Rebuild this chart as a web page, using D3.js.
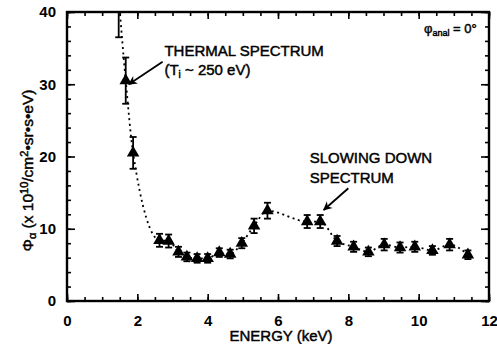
<!DOCTYPE html>
<html>
<head>
<meta charset="utf-8">
<script src="https://cdn.jsdelivr.net/npm/d3@7"></script>
<style>
  body { margin: 0; background: #fff; }
  text { font-family: "Liberation Sans", Arial, sans-serif; fill: #000; }
  .heavy { stroke: #000; stroke-width: 0.45px; }
</style>
</head>
<body>
<div id="chart"></div>
<script>
// energy (keV), flux (x 10^10), error half-width
const energy = [1.47, 1.67, 1.88, 2.63, 2.89, 3.17, 3.41, 3.70, 4.00, 4.33, 4.64, 4.97, 5.32, 5.70,
  6.83, 7.20, 7.68, 8.15, 8.57, 9.02, 9.47, 9.89, 10.39, 10.88, 11.40];
const flux = [42, 30.5, 20.5, 8.4, 8.3, 6.8, 6.1, 5.9, 5.9, 6.7, 6.5, 8.0, 10.4, 12.5,
  11.0, 11.0, 8.3, 7.5, 6.8, 7.8, 7.4, 7.5, 7.0, 7.8, 6.4];
const err = [5.5, 3.2, 2.2, 0.9, 0.9, 0.7, 0.6, 0.6, 0.6, 0.6, 0.6, 0.7, 1.0, 1.1,
  0.9, 0.9, 0.7, 0.7, 0.6, 0.8, 0.7, 0.7, 0.6, 0.8, 0.6];
const xTicks = [0, 2, 4, 6, 8, 10, 12];
const yTicks = [0, 10, 20, 30, 40];

const width = 497, height = 344;
const margin = {top: 12, right: 8, bottom: 43, left: 67};
const w = width - margin.left - margin.right;
const h = height - margin.top - margin.bottom;

const data = energy.map((e, i) => ({e, v: flux[i], err: err[i]}));

const x = d3.scaleLinear().domain([0, 12]).range([0, w]);
const y = d3.scaleLinear().domain([0, 40]).range([h, 0]);

const svg = d3.select('#chart')
  .append('svg')
    .attr('width', width)
    .attr('height', height)
  .append('g')
    .attr('transform', `translate(${margin.left},${margin.top})`);

svg.append('defs').append('clipPath').attr('id', 'clip')
  .append('rect').attr('width', w).attr('height', h);

svg.append('defs').append('marker')
    .attr('id', 'arrow')
    .attr('viewBox', '0 0 10 10')
    .attr('refX', 9).attr('refY', 5)
    .attr('markerWidth', 10).attr('markerHeight', 9)
    .attr('markerUnits', 'userSpaceOnUse')
    .attr('orient', 'auto')
  .append('path')
    .attr('d', 'M0,0 L10,5 L0,10 L3,5 Z');

// ticks: minor + major on all four sides, pointing inward
const tickStyle = (g) => {
  g.select('.domain').remove();
  g.selectAll('.tick line').attr('stroke', '#000').attr('stroke-width', 1.6);
};

svg.append('g')
  .attr('transform', `translate(0,${h})`)
  .call(d3.axisBottom(x).tickValues(d3.range(0, 12.01, 0.5)).tickSize(-4).tickFormat(''))
  .call(tickStyle);
svg.append('g')
  .attr('transform', `translate(0,${h})`)
  .call(d3.axisBottom(x).tickValues(xTicks).tickSize(-7).tickPadding(14))
  .call(tickStyle)
  .call(g => g.selectAll('text').attr('font-size', 15).attr('font-weight', 'bold'));
svg.append('g')
  .call(d3.axisTop(x).tickValues(d3.range(0, 12.01, 0.5)).tickSize(-4).tickFormat(''))
  .call(tickStyle);
svg.append('g')
  .call(d3.axisTop(x).tickValues(xTicks).tickSize(-7).tickFormat(''))
  .call(tickStyle);

svg.append('g')
  .call(d3.axisLeft(y).tickValues(d3.range(0, 40.01, 2)).tickSize(-4).tickFormat(''))
  .call(tickStyle);
svg.append('g')
  .call(d3.axisLeft(y).tickValues(yTicks).tickSize(-8).tickPadding(11))
  .call(tickStyle)
  .call(g => g.selectAll('text').attr('font-size', 15).attr('font-weight', 'bold'));
svg.append('g')
  .attr('transform', `translate(${w},0)`)
  .call(d3.axisRight(y).tickValues(d3.range(0, 40.01, 2)).tickSize(-4).tickFormat(''))
  .call(tickStyle);
svg.append('g')
  .attr('transform', `translate(${w},0)`)
  .call(d3.axisRight(y).tickValues(yTicks).tickSize(-8).tickFormat(''))
  .call(tickStyle);

svg.append('rect')
  .attr('width', w).attr('height', h)
  .attr('fill', 'none').attr('stroke', '#000').attr('stroke-width', 2.4);

const plot = svg.append('g').attr('clip-path', 'url(#clip)');

const line = d3.line()
  .x(d => x(d.e))
  .y(d => y(d.v))
  .curve(d3.curveMonotoneX);

plot.append('path')
  .datum(data)
  .attr('fill', 'none')
  .attr('stroke', '#000')
  .attr('stroke-width', 1.8)
  .attr('stroke-dasharray', '2,3.5')
  .attr('d', line);

const pts = plot.selectAll('.pt').data(data).join('g').attr('class', 'pt');
pts.append('line')
  .attr('x1', d => x(d.e)).attr('x2', d => x(d.e))
  .attr('y1', d => y(d.v + d.err)).attr('y2', d => y(d.v - d.err))
  .attr('stroke', '#000').attr('stroke-width', 1.8);
pts.selectAll('.cap').data(d => [d.v + d.err, d.v - d.err].map(v => ({e: d.e, v})))
  .join('line')
  .attr('x1', d => x(d.e) - 3.5).attr('x2', d => x(d.e) + 3.5)
  .attr('y1', d => y(d.v)).attr('y2', d => y(d.v))
  .attr('stroke', '#000').attr('stroke-width', 1.8);
pts.append('path')
  .attr('transform', d => `translate(${x(d.e)},${y(d.v)})`)
  .attr('d', d3.symbol(d3.symbolTriangle, 68))
  .attr('fill', '#000');

// annotations (data coordinates)
const ann = svg.append('g').attr('font-size', 15).attr('class', 'heavy');
ann.append('text').attr('x', x(2.77)).attr('y', y(33.9)).text('THERMAL SPECTRUM');
const t2 = ann.append('text').attr('x', x(2.77)).attr('y', y(31.3));
t2.append('tspan').text('(T');
t2.append('tspan').attr('font-size', 10).attr('dy', 3).text('i');
t2.append('tspan').attr('dy', -3).text(' ~ 250 eV)');

ann.append('text').attr('x', x(6.9)).attr('y', y(19.1)).text('SLOWING DOWN');
ann.append('text').attr('x', x(6.9)).attr('y', y(16.3)).text('SPECTRUM');

const phi = ann.append('text').attr('x', x(11.65)).attr('y', y(37.1))
  .attr('text-anchor', 'end').attr('font-size', 13);
phi.append('tspan').text('φ');
phi.append('tspan').attr('font-size', 9).attr('dy', 3).text('anal');
phi.append('tspan').attr('dy', -3).text(' = 0°');

const arrows = [
  {from: [2.72, 33.1], to: [1.76, 30.0]},
  {from: [8.0, 15.6], to: [7.3, 12.6]}
];
svg.selectAll('.arrow').data(arrows).join('line')
  .attr('x1', d => x(d.from[0])).attr('y1', d => y(d.from[1]))
  .attr('x2', d => x(d.to[0])).attr('y2', d => y(d.to[1]))
  .attr('stroke', '#000').attr('stroke-width', 1.8)
  .attr('marker-end', 'url(#arrow)');

// axis titles
svg.append('text')
  .attr('class', 'heavy')
  .attr('x', 281 - margin.left).attr('y', h + 40)
  .attr('text-anchor', 'middle').attr('font-size', 15)
  .text('ENERGY (keV)');

const yl = svg.append('text')
  .attr('class', 'heavy')
  .attr('transform', `translate(${-34},${h / 2 + 14}) rotate(-90)`)
  .attr('text-anchor', 'middle').attr('font-size', 15.5);
yl.append('tspan').text('Φ');
yl.append('tspan').attr('font-size', 11).attr('dy', 3).text('α');
yl.append('tspan').attr('dy', -3).text(' (x 10');
yl.append('tspan').attr('font-size', 11).attr('dy', -5).text('10');
yl.append('tspan').attr('dy', 5).text('/cm');
yl.append('tspan').attr('font-size', 11).attr('dy', -5).text('2');
yl.append('tspan').attr('dy', 5).text('•sr•s•eV)');
</script>
</body>
</html>
